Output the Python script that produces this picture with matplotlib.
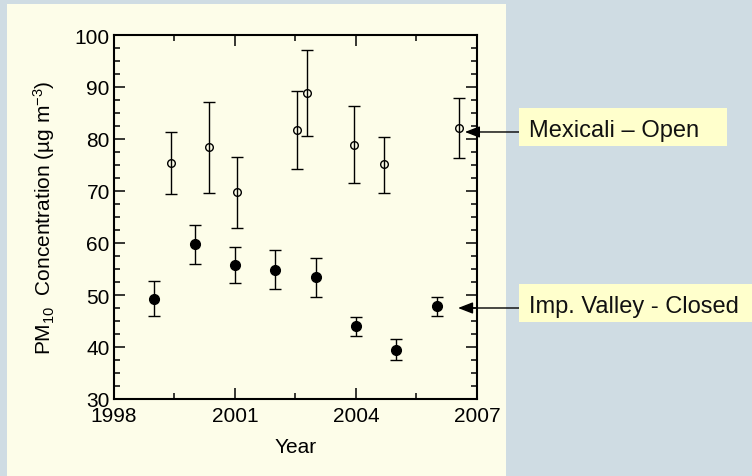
import matplotlib
matplotlib.use('Agg')
import matplotlib.pyplot as plt
from matplotlib.patches import Rectangle
from matplotlib.ticker import MultipleLocator

plt.rcParams['font.family'] = ['Liberation Sans', 'DejaVu Sans']
plt.rcParams['mathtext.fontset'] = 'custom'
plt.rcParams['mathtext.rm'] = 'Liberation Sans'
plt.rcParams['mathtext.it'] = 'Liberation Sans:italic'

# Mexicali - Open (open circles)
mex_year = [1999.42, 2000.35, 2001.04, 2002.54, 2002.79, 2003.94, 2004.69, 2006.55]
mex_val = [75.4, 78.4, 69.9, 81.8, 88.9, 78.9, 75.1, 82.1]
mex_hi = [81.3, 87.1, 76.6, 89.3, 97.1, 86.3, 80.4, 87.8]
mex_lo = [69.4, 69.7, 62.9, 74.2, 80.6, 71.5, 69.7, 76.3]

# Imperial Valley - Closed (filled circles)
imp_year = [1999.0, 2000.0, 2001.0, 2002.0, 2003.0, 2004.0, 2005.0, 2006.0]
imp_val = [49.2, 59.8, 55.8, 54.9, 53.4, 44.0, 39.5, 47.8]
imp_hi = [52.6, 63.5, 59.3, 58.7, 57.2, 45.8, 41.5, 49.6]
imp_lo = [45.9, 55.9, 52.3, 51.1, 49.6, 42.1, 37.5, 45.9]

x_ticks = [1998, 2001, 2004, 2007]
y_ticks = [30, 40, 50, 60, 70, 80, 90, 100]

W, H = 752, 477
fig = plt.figure(figsize=(W / 100, H / 100), dpi=100)
fig.patch.set_facecolor('#cfdce3')

# yellow panel behind the plot
fig.patches.append(Rectangle((7 / W, 0), 499 / W, 472 / H, transform=fig.transFigure,
                             facecolor='#fdfde9', edgecolor='none', zorder=-5))

ax = fig.add_axes([114 / W, 77 / H, 363 / W, 364 / H])
ax.set_facecolor('#fdfde9')


def errs(val, lo, hi):
    return [[v - l for v, l in zip(val, lo)], [h - v for v, h in zip(val, hi)]]


ax.errorbar(mex_year, mex_val, yerr=errs(mex_val, mex_lo, mex_hi), fmt='o',
            mfc='none', mec='black', mew=1.0, ms=5.5, ecolor='black',
            elinewidth=1.0, capsize=4, capthick=1.0)
ax.errorbar(imp_year, imp_val, yerr=errs(imp_val, imp_lo, imp_hi), fmt='o',
            mfc='black', mec='black', ms=7, ecolor='black',
            elinewidth=1.0, capsize=4, capthick=1.0)

ax.set_xlim(1998, 2007)
ax.set_ylim(30, 100)
ax.set_xticks(x_ticks)
ax.set_yticks(y_ticks)
ax.xaxis.set_minor_locator(MultipleLocator(1.5))
ax.yaxis.set_minor_locator(MultipleLocator(2.5))
ax.tick_params(which='both', direction='in', top=True, right=True, width=1.1,
               labelsize=15, colors='black')
ax.tick_params(which='major', length=8)
ax.tick_params(which='minor', length=4.5)
ax.tick_params(axis='x', pad=5)
ax.tick_params(axis='y', pad=3)
for s in ax.spines.values():
    s.set_linewidth(1.5)

ax.set_xlabel('Year', fontsize=15, labelpad=9)
ax.set_ylabel('PM$_{10}$  Concentration (\u00b5g m$^{-3}$)', fontsize=15, labelpad=13)

# label boxes with arrows
boxes = [
    ('Mexicali \u2013 Open', 519, 109, 208, 38, 137, 133, (2006.70, 81.35)),
    ('Imp. Valley - Closed', 519, 285, 240, 38, 313, 309, (2006.53, 47.5)),
]
for text, bx, by, bw, bh, base, ay, head in boxes:
    fig.patches.append(Rectangle((bx / W, 1 - (by + bh) / H), bw / W, bh / H,
                                 transform=fig.transFigure, facecolor='#ffffcc',
                                 edgecolor='none', zorder=1))
    fig.text((bx + 10) / W, 1 - base / H, text, fontsize=17, va='baseline',
             ha='left', color='#111111', zorder=3)
    ax.annotate('', xy=head, xycoords='data', xytext=(bx / W, 1 - ay / H),
                textcoords='figure fraction', annotation_clip=False,
                arrowprops=dict(arrowstyle='-|>,head_length=0.9,head_width=0.35',
                                color='black', lw=1.0, mutation_scale=10,
                                shrinkA=0, shrinkB=0))

fig.savefig('out.png', dpi=100, facecolor=fig.get_facecolor())
